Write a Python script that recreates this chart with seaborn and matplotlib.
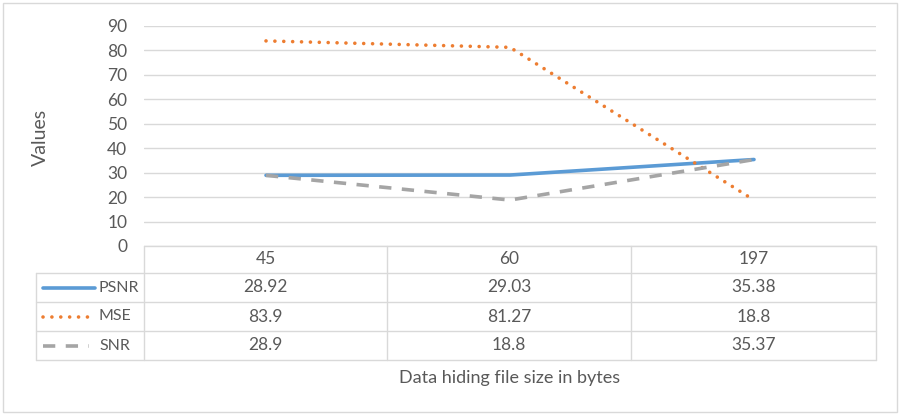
import matplotlib
matplotlib.use("Agg")
import matplotlib.pyplot as plt
import seaborn as sns
import pandas as pd
from matplotlib.patches import Rectangle
from matplotlib.lines import Line2D

categories = ["45", "60", "197"]
psnr = [28.92, 29.03, 35.38]
mse = [83.9, 81.27, 18.8]
snr = [28.9, 18.8, 35.37]
series_names = ["PSNR", "MSE", "SNR"]
y_ticks = [0, 10, 20, 30, 40, 50, 60, 70, 80, 90]

sns.set_theme(style="white")
plt.rcParams["font.family"] = ["Lato", "DejaVu Sans"]

W, H = 901, 416
fig = plt.figure(figsize=(W / 100, H / 100), dpi=100)

def fx(px):
    return px / W

def fy(py):
    return 1 - py / H

TXT = "#595959"
GRID = "#D9D9D9"
FS = 12.5
colors = {"PSNR": "#5B9BD5", "MSE": "#ED7D31", "SNR": "#A5A5A5"}
styles = {"PSNR": "-", "MSE": (0, (0.01, 2.45)), "SNR": (0, (3.4, 2.9))}
caps = {"PSNR": "round", "MSE": "round", "SNR": "butt"}
LW = 2.6

# chart border
fig.patches.append(Rectangle((fx(3), fy(412)), fx(894), (409) / H, transform=fig.transFigure,
                             fill=False, edgecolor=GRID, linewidth=1))

left, right, top, bottom = 144, 876, 26, 246
ax = fig.add_axes([fx(left), fy(bottom), fx(right - left), (bottom - top) / H])

df = pd.DataFrame({
    "x": list(range(len(categories))) * 3,
    "value": psnr + mse + snr,
    "series": [s for s in series_names for _ in categories],
})

for name in series_names:
    sub = df[df["series"] == name]
    sns.lineplot(data=sub, x="x", y="value", ax=ax, color=colors[name],
                 linewidth=LW, linestyle=styles[name], legend=False)
    ln = ax.lines[-1]
    ln.set_dash_capstyle(caps[name])
    ln.set_solid_capstyle("round")

ax.set_xlim(-0.5, len(categories) - 0.5)
ax.set_ylim(0, 90)
ax.set_yticks(y_ticks)
ax.set_yticklabels([str(v) for v in y_ticks], color=TXT, fontsize=FS)
ax.tick_params(axis="y", length=0, pad=12)
ax.set_xticks([])
ax.set_xlabel("")
ax.set_ylabel("")
for sp in ax.spines.values():
    sp.set_visible(False)
ax.yaxis.grid(True, color=GRID, linewidth=1)
ax.set_axisbelow(True)

fig.text(fx(40), fy(137), "Values", rotation=90, ha="center", va="center",
         color=TXT, fontsize=14)

# data table
col_edges = [144, 387, 631, 876]
row_edges = [246, 273, 302, 331, 360]
tleft = 36

def hline(y, x0, x1):
    fig.add_artist(Line2D([fx(x0), fx(x1)], [fy(y), fy(y)], transform=fig.transFigure,
                          color=GRID, linewidth=1))

def vline(x, y0, y1):
    fig.add_artist(Line2D([fx(x), fx(x)], [fy(y0), fy(y1)], transform=fig.transFigure,
                          color=GRID, linewidth=1))

hline(row_edges[0], col_edges[0], col_edges[-1])
for y in row_edges[1:]:
    hline(y, tleft, col_edges[-1])
for x in col_edges:
    vline(x, row_edges[0], row_edges[-1])
vline(tleft, row_edges[1], row_edges[-1])

for i, c in enumerate(categories):
    cx = (col_edges[i] + col_edges[i + 1]) / 2
    cy = (row_edges[0] + row_edges[1]) / 2
    fig.text(fx(cx), fy(cy), c, ha="center", va="center", color=TXT, fontsize=FS)

values = {"PSNR": psnr, "MSE": mse, "SNR": snr}
for r, name in enumerate(series_names):
    cy = (row_edges[r + 1] + row_edges[r + 2]) / 2
    for i, v in enumerate(values[name]):
        cx = (col_edges[i] + col_edges[i + 1]) / 2
        fig.text(fx(cx), fy(cy), f"{v:g}", ha="center", va="center", color=TXT, fontsize=FS)
    fig.text(fx(99), fy(cy), name, ha="left", va="center", color=TXT, fontsize=11.5)
    x1 = 95 if name == "PSNR" else 89
    fig.add_artist(Line2D([fx(43), fx(x1)], [fy(cy), fy(cy)], transform=fig.transFigure,
                          color=colors[name], linewidth=LW, linestyle=styles[name],
                          dash_capstyle=caps[name], solid_capstyle="round"))

fig.text(fx(510), fy(378), "Data hiding file size in bytes", ha="center", va="center",
         color=TXT, fontsize=13)

fig.savefig("out.png", dpi=100)
